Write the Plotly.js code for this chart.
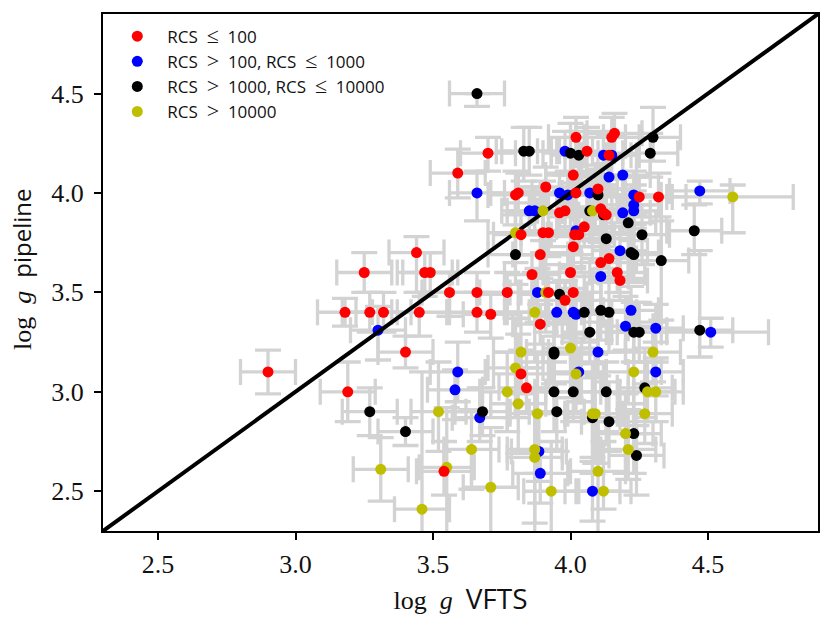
<!DOCTYPE html>
<html>
<head>
<meta charset="utf-8">
<script src="https://cdn.plot.ly/plotly-3.0.1.min.js"></script>
<style>body{margin:0;background:#fff}</style>
</head>
<body>
<div id="main_graph" style="width:832px;height:624px"></div>
<script>
// log g VFTS / log g pipeline per RCS class
let red_x = [4.02,4.16,4.15,3.70,4.06,4.14,3.59,4.01,3.91,3.81,3.80,4.02,4.10,4.25,4.32,3.98,3.96,4.11,4.12,4.13,4.05,3.82,3.90,3.92,4.015,4.03,4.01,3.89,4.14,4.11,3.86,4.00,4.17,4.18,3.56,3.66,3.77,3.92,4.01,3.98,3.66,3.71,3.89,3.82,3.84,3.54,3.44,3.25,3.47,3.49,3.18,3.27,3.32,3.45,3.40,2.90,3.19];
let red_y = [4.28,4.30,4.28,4.20,4.21,4.19,4.10,4.09,4.03,4.00,3.99,4.00,4.02,3.98,3.98,3.91,3.90,3.92,3.90,3.89,3.83,3.79,3.80,3.80,3.79,3.79,3.73,3.69,3.67,3.65,3.59,3.60,3.60,3.56,3.50,3.50,3.50,3.50,3.50,3.46,3.40,3.39,3.34,3.09,3.02,2.60,3.70,3.60,3.60,3.60,3.40,3.40,3.40,3.40,3.20,3.10,3.00];
let red_yup = [0.10,0.10,0.10,0.08,0.12,0.10,0.12,0.12,0.10,0.10,0.12,0.10,0.10,0.10,0.12,0.10,0.10,0.12,0.10,0.10,0.10,0.12,0.10,0.10,0.10,0.12,0.10,0.10,0.12,0.10,0.10,0.10,0.10,0.12,0.10,0.10,0.10,0.10,0.12,0.10,0.10,0.10,0.10,0.12,0.10,0.15,0.08,0.10,0.10,0.10,0.07,0.10,0.10,0.10,0.08,0.11,0.15];
let red_ydn = [0.10,0.12,0.10,0.09,0.10,0.12,0.125,0.10,0.12,0.10,0.10,0.10,0.12,0.10,0.10,0.10,0.12,0.10,0.10,0.12,0.10,0.10,0.10,0.12,0.10,0.10,0.10,0.12,0.10,0.10,0.10,0.12,0.10,0.10,0.12,0.10,0.10,0.12,0.10,0.10,0.10,0.12,0.10,0.10,0.12,0.12,0.20,0.10,0.12,0.10,0.07,0.10,0.10,0.12,0.08,0.11,0.15];
let red_xerr = [0.10,0.10,0.10,0.10,0.10,0.10,0.10,0.10,0.10,0.10,0.10,0.10,0.10,0.10,0.10,0.10,0.10,0.10,0.10,0.10,0.10,0.10,0.10,0.10,0.10,0.10,0.10,0.10,0.10,0.10,0.10,0.10,0.10,0.10,0.10,0.10,0.10,0.10,0.10,0.10,0.10,0.10,0.10,0.10,0.10,0.10,0.10,0.10,0.10,0.10,0.10,0.10,0.10,0.10,0.10,0.10,0.10];

let blue_x = [3.98,4.12,4.15,4.14,4.19,3.66,3.96,3.99,4.07,4.23,4.47,3.85,3.87,4.23,4.23,4.19,4.02,4.18,4.11,3.88,3.95,4.01,4.02,4.22,4.20,4.31,4.51,4.10,3.59,4.03,4.31,3.58,3.67,3.885,3.89,4.08,3.30];
let blue_y = [4.21,4.19,4.19,4.08,4.09,4.00,4.00,3.99,4.00,3.99,4.01,3.91,3.91,3.94,3.91,3.90,3.81,3.71,3.58,3.50,3.40,3.40,3.39,3.41,3.33,3.32,3.30,3.20,3.10,3.10,3.10,3.01,2.87,2.70,2.59,2.50,3.31];
let blue_yup = [0.10,0.12,0.10,0.12,0.10,0.11,0.10,0.12,0.10,0.12,0.05,0.10,0.12,0.10,0.10,0.12,0.10,0.12,0.15,0.12,0.15,0.12,0.10,0.12,0.15,0.12,0.07,0.15,0.15,0.12,0.15,0.10,0.15,0.20,0.12,0.15,0.12];
let blue_ydn = [0.12,0.10,0.12,0.10,0.15,0.14,0.12,0.10,0.12,0.10,0.065,0.12,0.10,0.12,0.15,0.10,0.12,0.15,0.12,0.15,0.12,0.15,0.12,0.10,0.12,0.15,0.075,0.12,0.15,0.15,0.12,0.15,0.12,0.15,0.15,0.15,0.15];
let blue_xerr = [0.10,0.10,0.10,0.10,0.10,0.10,0.10,0.10,0.10,0.10,0.11,0.10,0.10,0.10,0.10,0.10,0.10,0.10,0.10,0.10,0.10,0.10,0.10,0.10,0.10,0.10,0.21,0.10,0.10,0.10,0.10,0.10,0.10,0.10,0.10,0.10,0.10];

let black_x = [3.66,4.30,4.29,3.83,3.85,4.00,4.03,4.10,4.07,4.12,4.21,4.26,4.45,4.13,4.22,4.23,4.33,3.80,3.96,4.05,4.11,4.14,4.07,4.23,4.25,4.47,3.94,3.94,3.94,4.01,4.13,4.27,3.95,3.68,4.08,4.14,4.23,4.24,3.27,3.40];
let black_y = [4.50,4.28,4.20,4.21,4.21,4.20,4.19,3.99,3.91,3.89,3.85,3.79,3.81,3.77,3.70,3.69,3.66,3.69,3.49,3.40,3.41,3.40,3.30,3.30,3.30,3.31,3.20,3.19,3.00,3.00,3.00,3.02,2.90,2.90,2.87,2.85,2.79,2.68,2.90,2.80];
let black_yup = [0,0.15,0.10,0.12,0.12,0.15,0.12,0.15,0.12,0.15,0.12,0.15,0.13,0.15,0.12,0.15,0.20,0.15,0.15,0.20,0.15,0.15,0.20,0.15,0.15,0.40,0.15,0.20,0.15,0.20,0.15,0.20,0.15,0.12,0.20,0.20,0.15,0.15,0.12,0.07];
let black_ydn = [0.065,0.12,0.12,0.15,0.12,0.15,0.15,0.12,0.15,0.12,0.15,0.15,0.12,0.15,0.15,0.12,0.30,0.15,0.12,0.15,0.15,0.20,0.15,0.15,0.15,0.135,0.20,0.15,0.20,0.15,0.20,0.15,0.20,0.12,0.20,0.15,0.20,0.20,0.12,0.07];
let black_xerr = [0.10,0.10,0.10,0.10,0.10,0.10,0.10,0.10,0.10,0.10,0.10,0.10,0.10,0.10,0.10,0.10,0.10,0.10,0.10,0.10,0.10,0.10,0.10,0.10,0.10,0.12,0.10,0.10,0.10,0.10,0.10,0.10,0.10,0.10,0.10,0.10,0.10,0.10,0.10,0.10];

let olive_x = [4.59,3.90,4.08,3.80,3.91,3.87,3.82,4.00,4.30,3.80,4.02,4.23,3.77,4.28,4.31,3.81,3.88,3.52,4.08,4.09,4.27,4.20,4.21,3.64,3.87,3.87,3.55,4.10,3.71,3.93,4.12,3.31,3.46];
let olive_y = [3.98,3.91,3.91,3.80,3.50,3.40,3.20,3.22,3.20,3.12,3.09,3.10,3.00,3.00,3.00,2.94,2.89,2.90,2.89,2.89,2.89,2.79,2.71,2.71,2.71,2.67,2.62,2.60,2.52,2.50,2.50,2.61,2.41];
let olive_yup = [0.06,0.15,0.15,0.15,0.20,0.20,0.20,0.25,0.15,0.25,0.20,0.20,0.20,0.15,0.15,0.35,0.30,0.25,0.25,0.30,0.15,0.20,0.20,0.20,0.30,0.35,0.30,0.25,0.30,0.25,0.25,0.16,0.69];
let olive_ydn = [0.18,0.15,0.15,0.15,0.20,0.25,0.20,0.25,0.15,0.25,0.20,0.20,0.20,0.15,0.15,0.25,0.30,0.20,0.30,0.25,0.15,0.20,0.15,0.20,0.37,0.45,0.35,0.35,0.30,0.30,0.09,0.16,0.30];
let olive_xerr = [0.22,0.10,0.10,0.10,0.10,0.10,0.10,0.10,0.10,0.10,0.10,0.10,0.10,0.10,0.10,0.10,0.10,0.10,0.10,0.10,0.10,0.10,0.10,0.10,0.10,0.10,0.10,0.10,0.10,0.10,0.10,0.10,0.10];

let diag_x = [2.3, 4.9];
let diag_y = [2.3, 4.9];
let tick_vals = [2.5, 3.0, 3.5, 4.0, 4.5];

let le = '&nbsp;&nbsp;<span style="font-family:Liberation Serif;font-size:22px">≤</span>&nbsp;&nbsp;';
let gt = '&nbsp;&nbsp;<span style="font-family:Liberation Serif;font-size:22px">&gt;</span>&nbsp;&nbsp;';
let x_sans = '<span style="font-family:Open Sans;font-size:28px">';
let y_sans = '<span style="font-family:Open Sans;font-size:24px">';

// grey bars go in their own trace so they stay under every marker
function barTrace(x, y, xerr, up, dn)
{
    return {
        type: 'scatter', mode: 'markers', x: x, y: y, showlegend: false, hoverinfo: 'skip',
        marker: {size: 1, opacity: 0},
        error_x: {type: 'data', array: xerr, symmetric: true, color: '#d3d3d3', thickness: 3.3, width: 13},
        error_y: {type: 'data', array: up, arrayminus: dn, symmetric: false, color: '#d3d3d3', thickness: 3.3, width: 13}
    };
}

function dotTrace(x, y, color, name, rank)
{
    return {
        type: 'scatter', mode: 'markers', x: x, y: y, name: name,
        legendgroup: name, legendrank: rank,
        marker: {color: color, size: 11}
    };
}

let traces = [
    barTrace(red_x, red_y, red_xerr, red_yup, red_ydn),
    barTrace(blue_x, blue_y, blue_xerr, blue_yup, blue_ydn),
    barTrace(black_x, black_y, black_xerr, black_yup, black_ydn),
    barTrace(olive_x, olive_y, olive_xerr, olive_yup, olive_ydn),
    dotTrace(blue_x, blue_y, '#0000ff', 'RCS' + gt + '100, RCS' + le + '1000', 2),
    {type: 'scatter', mode: 'lines', x: diag_x, y: diag_y, showlegend: false, line: {color: '#000000', width: 4}},
    dotTrace(black_x, black_y, '#000000', 'RCS' + gt + '1000, RCS' + le + '10000', 3),
    dotTrace(olive_x, olive_y, '#bfbf00', 'RCS' + gt + '10000', 4),
    dotTrace(red_x, red_y, '#ff0000', 'RCS' + le + '100', 1)
];

let axis = {
    range: [2.3, 4.9],
    tickvals: tick_vals,
    tickformat: '.1f',
    ticks: 'outside', ticklen: 7, tickwidth: 2, tickcolor: '#000',
    showgrid: false, zeroline: false,
    showline: true, mirror: true, linewidth: 2, linecolor: '#000',
    tickfont: {family: 'Liberation Serif', size: 26, color: '#111'}
};

let layout = {
    width: 832, height: 624,
    margin: {l: 103, r: 14, t: 14, b: 93},
    paper_bgcolor: '#ffffff',
    plot_bgcolor: '#ffffff',
    font: {family: 'Liberation Serif', color: '#111'},
    xaxis: Object.assign({}, axis, {
        ticklabelstandoff: 2,
        title: {text: 'log&nbsp;&nbsp;<i>g</i>&nbsp;&nbsp;' + x_sans + 'VFTS</span>', font: {size: 26}, standoff: 6}
    }),
    yaxis: Object.assign({}, axis, {
        ticklabelstandoff: 5,
        title: {text: '&nbsp;log&nbsp;&nbsp;<i>g</i>&nbsp;&nbsp;' + y_sans + 'pipeline</span>', font: {size: 26}, standoff: 12}
    }),
    legend: {
        x: 0.006, y: 0.991, xanchor: 'left', yanchor: 'top',
        bgcolor: 'rgba(0,0,0,0)', borderwidth: 0,
        font: {family: 'Open Sans', size: 17, color: '#111'},
        itemwidth: 50,
        tracegroupgap: 0, itemclick: false
    },
    showlegend: true
};

Plotly.newPlot('main_graph', traces, layout, {displayModeBar: false});
</script>
</body>
</html>
